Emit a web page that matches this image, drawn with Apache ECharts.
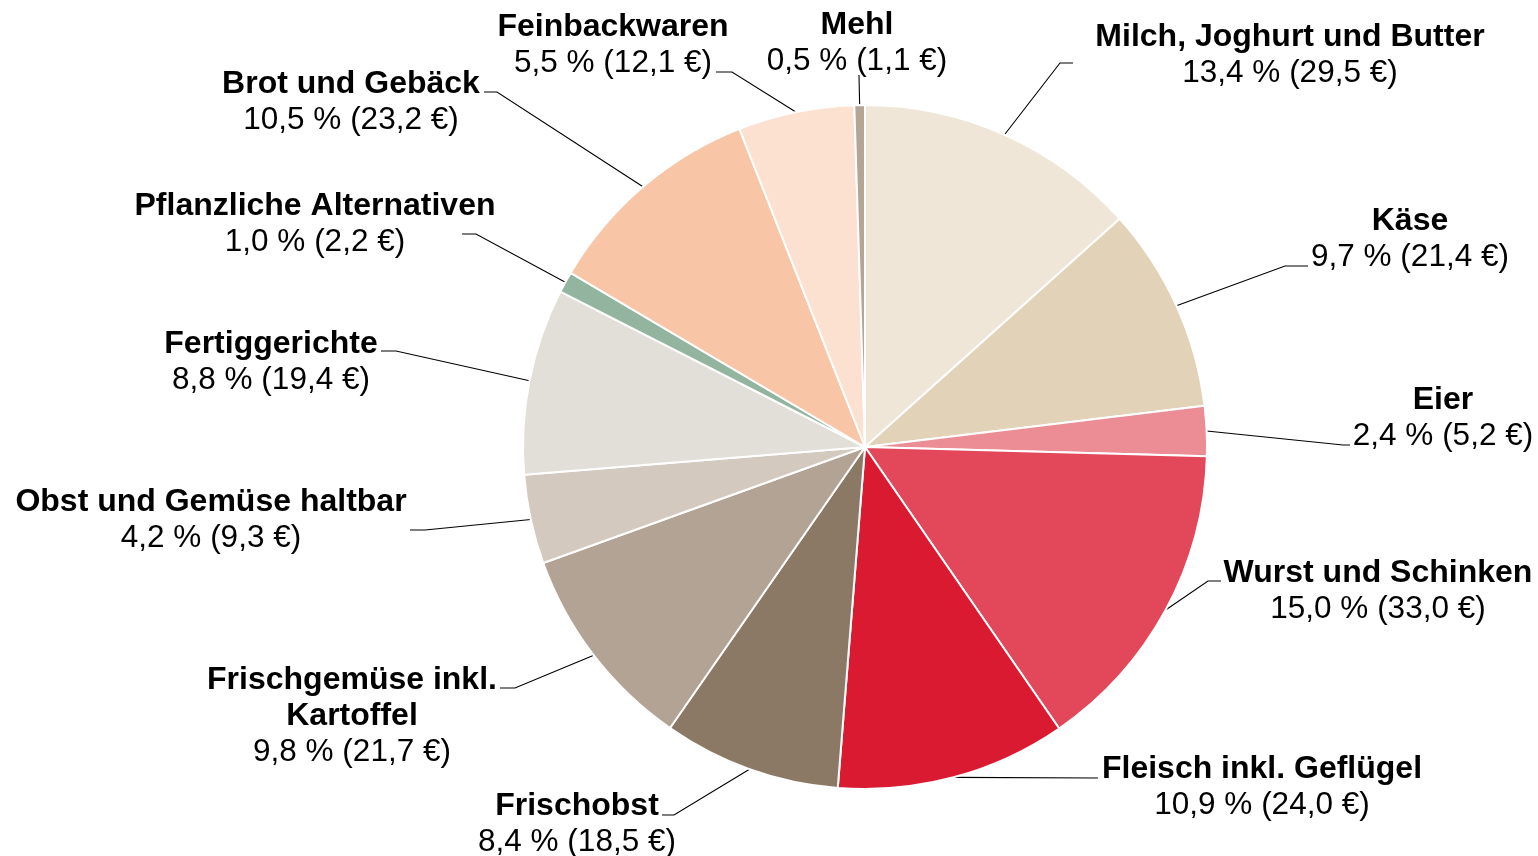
<!DOCTYPE html>
<html lang="de">
<head>
    <meta charset="UTF-8">
    <title>Ausgaben Lebensmittel</title>
    <script src="https://cdn.jsdelivr.net/npm/echarts@6/dist/echarts.min.js"></script>
    <style>
        html, body { margin: 0; padding: 0; background: #fff; }
        #chart { width: 1538px; height: 856px; }
    </style>
</head>
<body>
<div id="chart"></div>
<script type="text/javascript">
    // Kategorien im Uhrzeigersinn ab 12 Uhr
    var categories = [
        'Milch, Joghurt und Butter', 'Käse', 'Eier', 'Wurst und Schinken',
        'Fleisch inkl. Geflügel', 'Frischobst', 'Frischgemüse inkl.\nKartoffel',
        'Obst und Gemüse haltbar', 'Fertiggerichte', 'Pflanzliche Alternativen',
        'Brot und Gebäck', 'Feinbackwaren', 'Mehl'
    ];
    var euros = [29.5, 21.4, 5.2, 33.0, 24.0, 18.5, 21.7, 9.3, 19.4, 2.2, 23.2, 12.1, 1.1];
    var percents = [13.4, 9.7, 2.4, 15.0, 10.9, 8.4, 9.8, 4.2, 8.8, 1.0, 10.5, 5.5, 0.5];

    var colors = ['#efe6d8', '#e2d2b7', '#ec8c95', '#e2475a', '#da1a31', '#8c7965',
        '#b3a394', '#d3c9bf', '#e2ded8', '#93b5a0', '#f8c5a7', '#fce0d0', '#b5a594'];

    // Mittelpunkt der Beschriftungen
    var labelPos = [[1290, 55], [1410, 239], [1443, 418], [1378, 591], [1262, 787], [577, 824],
        [352, 716], [211, 520], [271, 362], [315, 224], [351, 102], [613, 45], [857, 43]];
    // Knick und Ende der Führungslinien (Start kommt vom Kreisbogen)
    var guideElbow = [[1060, 63], [1285, 266], [1343, 445], [1208, 581], [1098, 778], [674, 815],
        [515, 688], [425, 530], [396, 351], [476, 234], [497, 92], [732, 72], [859, 76]];
    var guideEnd = [[1073, 63], [1308, 266], [1350, 445], [1221, 581], [1098, 778], [662, 815],
        [500, 688], [410, 530], [381, 351], [462, 234], [484, 92], [716, 72], [859, 75]];

    function fmt(v) {
        return v.toFixed(1).replace('.', ',');
    }

    var chart = echarts.init(document.getElementById('chart'));

    var seriesData = categories.map(function (name, i) {
        return {
            name: name,
            value: euros[i],
            itemStyle: { color: colors[i] }
        };
    });

    var font = '"Liberation Sans", Arial, sans-serif';

    chart.setOption({
        animation: false,
        textStyle: { fontFamily: font },
        series: [{
            type: 'pie',
            center: [865, 447],
            radius: 342,
            startAngle: 90,
            clockwise: true,
            data: seriesData,
            itemStyle: { borderColor: '#fff', borderWidth: 2 },
            emphasis: { disabled: true },
            label: {
                show: true,
                position: 'outside',
                align: 'center',
                color: '#000',
                formatter: function (p) {
                    var i = p.dataIndex;
                    return '{n|' + p.name + '}\n{v|' + fmt(percents[i]) + ' % (' + fmt(euros[i]) + ' €)}';
                },
                rich: {
                    n: { fontSize: 32, fontWeight: 'bold', lineHeight: 36, color: '#000', align: 'center', fontFamily: font },
                    v: { fontSize: 31.5, lineHeight: 36, color: '#000', align: 'center', fontFamily: font }
                }
            },
            labelLine: {
                show: true,
                length: 20,
                length2: 24,
                lineStyle: { color: '#000', width: 1.1 }
            },
            labelLayout: function (params) {
                var i = params.dataIndex;
                var pos = labelPos[i];
                var out = {
                    x: pos[0],
                    y: pos[1],
                    align: 'center',
                    verticalAlign: 'middle'
                };
                if (params.labelLinePoints && params.labelLinePoints[0]) {
                    out.labelLinePoints = [
                        params.labelLinePoints[0].slice(),
                        guideElbow[i].slice(),
                        guideEnd[i].slice()
                    ];
                }
                return out;
            }
        }]
    });
</script>
</body>
</html>
